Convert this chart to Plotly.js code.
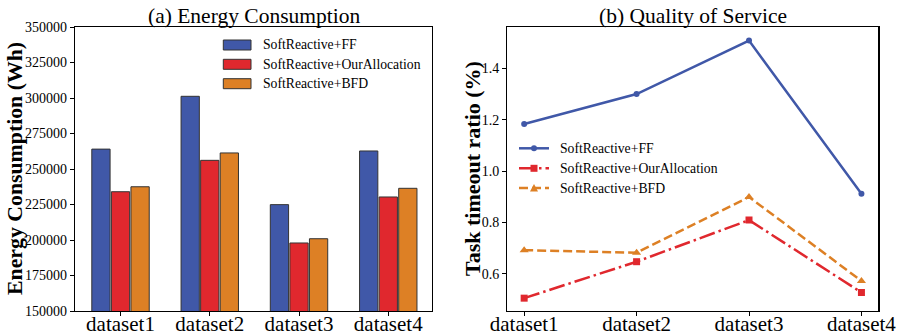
<!DOCTYPE html>
<html>
<head>
<meta charset="utf-8">
<script src="https://cdn.plot.ly/plotly-3.0.1.min.js"></script>
<style>html,body{margin:0;padding:0;background:#fff;}#chart{width:900px;height:336px;}</style>
</head>
<body>
<div id="chart"></div>
<script>
const categories = ["dataset1", "dataset2", "dataset3", "dataset4"];
const seriesNames = ["SoftReactive+FF", "SoftReactive+OurAllocation", "SoftReactive+BFD"];
const energyFF = [264000, 301200, 224900, 262700];
const energyOur = [234000, 256100, 197900, 230300];
const energyBFD = [237500, 261300, 200900, 236400];
const qosFF = [1.183, 1.300, 1.508, 0.912];
const qosOur = [0.505, 0.647, 0.809, 0.527];
const qosBFD = [0.692, 0.682, 0.899, 0.572];
const energyTicks = [150000, 175000, 200000, 225000, 250000, 275000, 300000, 325000, 350000];
const qosTicks = [0.6, 0.8, 1.0, 1.2, 1.4];

const colors = ["#4058a8", "#e0282e", "#dd8025"];
const serif = "Liberation Serif";
const W = 900, H = 336;
const px = v => v / W;
const py = v => 1 - v / H;

const energyData = [energyFF, energyOur, energyBFD];
const qosData = [qosFF, qosOur, qosBFD];
const dashes = ["solid", "16px,4px,2.5px,4px", "9px,4px"];
const symbols = ["circle", "square", "triangle-up"];
const msizes = [6, 7, 8];

const traces = [];
energyData.forEach((vals, i) => {
  traces.push({
    type: "bar", x: categories, y: vals, name: seriesNames[i],
    xaxis: "x", yaxis: "y", showlegend: false,
    marker: {color: colors[i], line: {color: "#333333", width: 1}}
  });
});
qosData.forEach((vals, i) => {
  traces.push({
    type: "scatter", mode: "lines+markers", x: categories, y: vals, name: seriesNames[i],
    xaxis: "x2", yaxis: "y2", showlegend: false,
    line: {color: colors[i], width: 2.5, dash: dashes[i]},
    marker: {color: colors[i], symbol: symbols[i], size: msizes[i]}
  });
});

// Custom legends (paper coordinates)
const shapes = [];
const annotations = [];
const leg1Rows = [45, 64.3, 83.7];
const leg2Rows = [148.3, 168.3, 188];
const legFont = {size: 13.7, family: serif, color: "#000"};
seriesNames.forEach((name, i) => {
  const yc = leg1Rows[i];
  shapes.push({type: "rect", xref: "paper", yref: "paper",
    x0: px(223.3), x1: px(251), y0: py(yc - 5), y1: py(yc + 5),
    fillcolor: colors[i], line: {color: "#333333", width: 1}});
  annotations.push({text: name, xref: "paper", yref: "paper", x: px(261), y: py(yc),
    xanchor: "left", yanchor: "middle", showarrow: false, font: legFont});
  const y2c = leg2Rows[i];
  shapes.push({type: "line", xref: "paper", yref: "paper",
    x0: px(519), x1: px(549), y0: py(y2c), y1: py(y2c),
    line: {color: colors[i], width: 2.5, dash: dashes[i]}});
  const mx = px(534), my = py(y2c);
  if (symbols[i] === "circle") {
    shapes.push({type: "circle", xref: "paper", yref: "paper", xsizemode: "pixel", ysizemode: "pixel",
      xanchor: mx, yanchor: my, x0: -3, x1: 3, y0: -3, y1: 3, fillcolor: colors[i], line: {width: 0}});
  } else if (symbols[i] === "square") {
    shapes.push({type: "rect", xref: "paper", yref: "paper", xsizemode: "pixel", ysizemode: "pixel",
      xanchor: mx, yanchor: my, x0: -3.5, x1: 3.5, y0: -3.5, y1: 3.5, fillcolor: colors[i], line: {width: 0}});
  } else {
    shapes.push({type: "path", xref: "paper", yref: "paper", xsizemode: "pixel", ysizemode: "pixel",
      xanchor: mx, yanchor: my, path: "M-4,-3.5 L4,-3.5 L0,4 Z", fillcolor: colors[i], line: {width: 0}});
  }
  annotations.push({text: name, xref: "paper", yref: "paper", x: px(558), y: py(y2c),
    xanchor: "left", yanchor: "middle", showarrow: false, font: legFont});
});

annotations.push(
  {text: "(a) Energy Consumption", xref: "paper", yref: "paper", x: px(253.5), y: py(16),
   xanchor: "center", yanchor: "middle", showarrow: false, font: {size: 21.5, family: serif, color: "#000"}},
  {text: "(b) Quality of Service", xref: "paper", yref: "paper", x: px(692.8), y: py(16),
   xanchor: "center", yanchor: "middle", showarrow: false, font: {size: 21.5, family: serif, color: "#000"}},
  {text: "<b>Energy Consumption (Wh)</b>", xref: "paper", yref: "paper", x: px(15), y: py(169),
   xanchor: "center", yanchor: "middle", textangle: -90, showarrow: false, font: {size: 21.8, family: serif, color: "#000"}},
  {text: "<b>Task timeout ratio (%)</b>", xref: "paper", yref: "paper", x: px(472), y: py(169),
   xanchor: "center", yanchor: "middle", textangle: -90, showarrow: false, font: {size: 22, family: serif, color: "#000"}}
);

const axisCommon = {
  showline: true, mirror: true, linecolor: "#000", linewidth: 1.2,
  ticks: "outside", ticklen: 4, tickwidth: 1, tickcolor: "#000",
  showgrid: false, zeroline: false
};

const layout = {
  width: W, height: H,
  margin: {l: 0, r: 0, t: 0, b: 0},
  paper_bgcolor: "#fff", plot_bgcolor: "#fff",
  font: {family: serif, color: "#000"},
  barmode: "group", bargap: 0.342, bargroupgap: 0.066,
  showlegend: false,
  xaxis: Object.assign({}, axisCommon, {
    domain: [px(75), px(432)], anchor: "y", type: "category",
    range: [-0.51, 3.49], tickfont: {size: 21, family: serif, color: "#000"},
    ticklabelstandoff: -10
  }),
  yaxis: Object.assign({}, axisCommon, {
    domain: [1 - 311/H, 1 - 27/H], anchor: "x",
    range: [150000, 350000], tickvals: energyTicks, ticktext: energyTicks.map(String),
    tickfont: {size: 14, family: serif, color: "#000"}
  }),
  xaxis2: Object.assign({}, axisCommon, {
    domain: [px(507.3), px(878.3)], anchor: "y2", type: "category",
    range: [-0.15, 3.15], tickfont: {size: 21, family: serif, color: "#000"},
    ticklabelstandoff: -10
  }),
  yaxis2: Object.assign({}, axisCommon, {
    domain: [1 - 311/H, 1 - 27/H], anchor: "x2",
    range: [0.455, 1.561], tickvals: qosTicks, ticktext: qosTicks.map(v => v.toFixed(1)),
    tickfont: {size: 14, family: serif, color: "#000"}
  }),
  shapes: shapes,
  annotations: annotations
};

Plotly.newPlot("chart", traces, layout, {displayModeBar: false, staticPlot: true});
</script>
</body>
</html>
